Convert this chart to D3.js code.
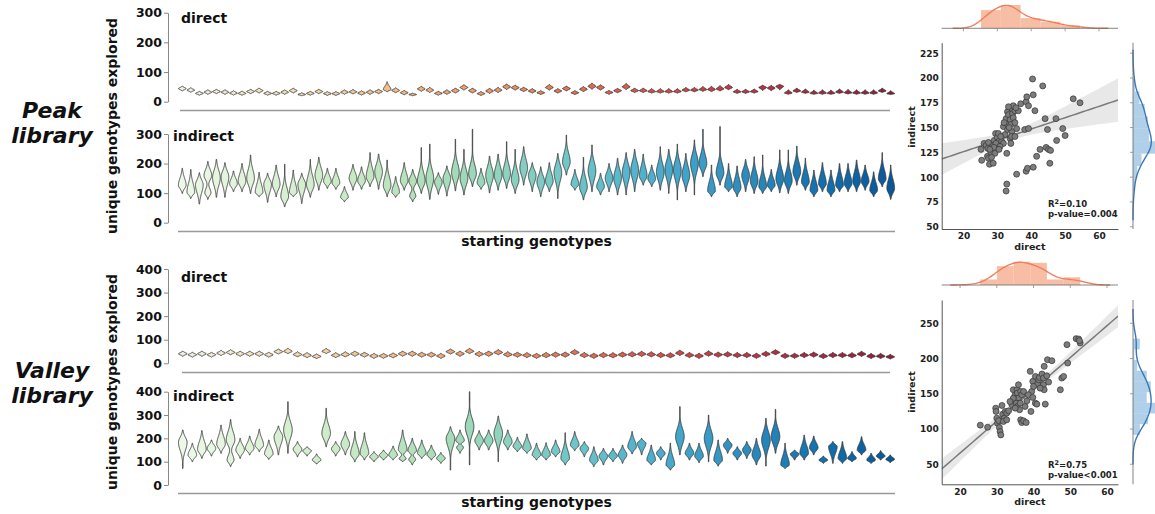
<!DOCTYPE html>
<html>
<head>
<meta charset="utf-8">
<script src="https://cdn.jsdelivr.net/npm/d3@7"></script>
<style>
  body { margin: 0; background: #fff; }
  svg { font-family: 'DejaVu Sans', sans-serif; font-weight: bold; }
</style>
</head>
<body>
<svg width="1155" height="514"></svg>
<script>
// violins: [bottom tip, widest point, top tip, optional second bulge]
const peakDirect = [
  [36,44,53],[32,39,47],[22,28,35],[25,32,40],[27,34,42],[25,32,40],[22,29,37],[22,28,36],[27,34,42],[29,37,46],
  [22,28,35],[22,28,35],[25,32,40],[29,37,46],[20,24,30],[22,28,35],[27,34,42],[21,27,34],[21,27,34],[25,32,40],
  [26,33,41],[22,29,37],[25,32,40],[27,34,42],[33,41,67],[30,38,47],[23,30,38],[20,24,29],[35,43,52],[31,39,48],
  [22,28,35],[25,32,40],[29,37,46],[39,48,57],[29,37,46],[21,27,34],[28,36,45],[31,39,48],[41,50,60],[39,47,56],
  [34,41,49],[29,36,44],[24,30,37],[39,48,58],[29,36,44],[36,44,53],[24,30,37],[34,42,51],[42,52,63],[39,48,57],
  [25,31,38],[30,37,45],[41,50,61],[31,37,46],[31,37,46],[29,34,44],[29,34,44],[29,34,44],[29,34,44],[33,39,48],
  [33,39,48],[35,41,51],[34,41,52],[36,43,54],[40,48,58],[28,33,42],[28,33,42],[29,34,43],[38,48,56],[37,46,55],
  [40,52,59],[25,29,40],[31,36,46],[28,32,43],[25,28,39],[25,29,40],[25,28,39],[28,32,43],[26,30,41],[25,29,40],
  [25,29,40],[25,29,40],[31,36,46],[24,27,37]
]
const peakIndirect = [
  [99,127,184],[82,103,180],[63,128,169],[79,160,207,101],[86,152,214],[86,155,203],[105,132,175],[105,140,200],[99,150,229],[88,102,170],
  [69,130,167],[88,130,195],[54,88,198],[88,102,178],[65,130,167],[86,128,214],[110,160,221],[116,140,184],[113,135,184],[71,86,122],
  [110,150,197],[113,142,189],[122,155,237],[113,172,232],[88,125,212],[86,103,156],[110,142,203],[71,140,180,90],[99,140,254],[79,150,266],
  [96,138,169],[90,150,192],[108,170,282],[94,150,248],[122,165,316],[113,135,184],[101,160,225],[110,160,232],[116,165,274],[99,145,248],
  [127,185,257],[105,160,203],[88,138,189],[105,140,203],[82,170,234],[161,205,296],[110,130,180],[77,120,221],[105,175,263],[94,122,167],
  [105,150,200],[94,150,218],[94,170,237],[105,178,248],[127,158,232],[122,148,195],[110,170,257],[99,180,248],[77,178,266],[105,160,234],
  [94,200,280],[156,200,316],[88,108,195],[127,168,325],[105,122,200],[88,118,192],[105,160,214],[99,140,223],[99,122,229],[105,127,180],
  [101,148,246],[99,142,246],[127,172,259],[110,138,218],[88,110,178],[105,132,203],[88,110,178],[105,127,200],[105,132,200],[105,140,212],
  [110,140,195],[88,110,172],[122,148,237],[79,116,195]
]
const valleyDirect = [
  [30,40,52],[26,36,47],[30,40,52],[26,36,47],[33,43,55],[36,46,58],[30,40,52],[30,40,52],[30,40,52],[26,36,47],
  [39,49,61],[41,51,64],[27,37,49],[24,34,45],[20,29,40],[41,51,63],[24,34,45],[27,37,49],[30,40,52],[26,36,47],
  [21,31,42],[21,31,42],[23,33,44],[30,40,52],[30,40,52],[26,36,47],[26,36,47],[21,31,42],[39,49,61],[30,40,52],
  [41,51,63],[29,39,50],[30,40,52],[36,46,58],[27,37,49],[26,36,47],[24,34,45],[21,31,42],[24,34,46],[26,36,48],
  [26,36,48],[36,46,58],[24,34,46],[21,31,43],[24,34,46],[23,33,45],[26,36,48],[27,37,49],[29,39,51],[27,37,49],
  [24,34,46],[23,33,45],[33,43,56],[24,34,46],[21,31,43],[30,40,53],[26,36,48],[27,37,49],[24,34,46],[24,34,46],
  [21,31,43],[29,39,51],[36,46,58],[21,31,43],[21,31,43],[24,34,46],[26,36,48],[20,30,42],[24,34,46],[24,34,46],
  [23,33,45],[29,39,51],[20,30,42],[20,30,42],[18,27,38]
]
const valleyIndirect = [
  [71,183,236],[100,129,179],[114,153,233],[124,157,193],[136,175,257],[79,193,281,107],[114,150,200],[129,157,210],[143,171,239],[110,133,193],
  [129,207,253],[136,236,357],[121,153,186],[124,147,164],[90,107,133],[164,221,329],[124,155,186],[129,175,229],[100,133,229],[107,136,224],
  [100,121,143],[107,127,150],[107,128,167],[100,150,236,112],[86,147,200,110],[114,136,193],[107,129,171],[93,114,139],[64,200,250],[136,190,236,162],
  [86,250,400],[150,190,233],[150,190,236],[100,221,296],[150,185,236],[143,165,204],[136,157,219],[107,129,179],[107,129,181],[121,143,193],
  [86,114,224],[147,171,229],[121,157,186],[79,107,164],[86,124,157],[100,124,157],[93,129,171],[133,164,229],[129,179,200],[86,107,171],
  [107,136,164],[64,86,179],[129,207,336],[107,136,179],[96,124,179],[100,200,300],[81,107,193],[136,171,200],[107,136,164],[114,150,186],
  [86,129,200],[81,193,286],[136,207,324],[71,86,179],[107,133,150],[107,136,214],[129,160,210],[93,107,124],[93,165,186],[93,114,186],
  [100,114,143],[129,150,207],[93,107,136],[107,124,147],[96,110,129]
]

// per-genotype means for the joint plots
const peakDirectMean = [
  25.2,25.4,26.1,26.7,27.2,27.4,27.1,27.4,27.7,28.8,28.1,28.6,29.1,29.5,30.0,30.3,30.4,29.6,31.3,31.8,
  32.3,32.8,33.0,32.6,33.0,33.3,33.8,34.0,34.3,34.5,34.7,35.2,34.7,35.2,34.3,33.8,34.2,34.0,32.8,32.8,
  32.6,35.7,36.9,38.5,38.7,39.2,38.1,39.2,38.5,38.9,40.4,40.6,41.1,40.6,41.6,42.6,43.4,44.1,44.4,44.8,
  45.1,45.7,45.5,47.3,47.5,49.3,50.0,52.4,54.4,31.8,30.8,29.3,28.3,35.2,35.7,36.2,35.5,33.3,32.0,29.0,
  30.5,27.8,31.0,33.5
]
const peakIndirectMean = [
  128,117,134,132,129,135,121,119,113,114,125,131,137,144,140,144,136,134,136,151,
  143,154,148,159,166,163,158,153,169,164,172,167,160,155,146,139,141,134,124,93,
  86,103,174,176,181,172,148,149,106,109,199,183,167,110,121,128,192,159,130,148,
  128,127,114,159,137,149,142,179,175,134,131,124,120,141,149,167,170,171,155,130,
  128,128,141,150
]
const valleyDirectMean = [
  25.5,27.5,29.7,29.8,30.0,30.2,30.7,30.9,31.1,30.5,31.4,31.6,32.0,32.3,32.7,33.2,34.1,34.5,35.0,35.3,
  35.5,35.6,35.9,35.3,35.6,36.2,36.4,36.5,36.8,37.3,36.5,36.8,37.3,38.0,37.7,38.2,39.1,39.3,39.8,40.5,
  40.5,40.9,41.1,41.4,41.6,42.3,42.7,42.7,42.9,43.2,42.9,43.8,45.0,44.1,47.3,47.7,48.2,49.1,49.3,51.6,
  52.3,52.7,52.5,39.5,40.0,41.8,34.5,33.6,31.8,32.7,35.0,35.9,38.6,39.8,43.6
]
const valleyIndirectMean = [
  105.5,102.6,129.6,124.9,115.4,108.3,102.1,96.4,91.7,112,133.4,121,115.4,124.9,122.5,125.8,134.4,155.7,148.6,141.5,
  155.7,151,143.8,136.7,132,127.3,136.7,153.3,148.6,153.3,113,109.2,111.6,109.2,132,140,181.8,124.9,167.6,174.6,
  136.7,135.3,163.7,169.9,173.2,178,172.3,162.8,155.7,135.3,188.9,198.3,196.9,166.6,155.7,172.3,174.6,219.7,193.6,228.2,
  227.7,222,225.4,153.3,160.4,158,143.8,139,110.7,113,129.6,162.8,148.6,144.8,175.6
]

const peakTicks = [0, 100, 200, 300]
const valleyTicks = [0, 100, 200, 300, 400]
const jointXTicks = [20, 30, 40, 50, 60]
const peakJointYTicks = [50, 75, 100, 125, 150, 175, 200, 225]
const valleyJointYTicks = [50, 100, 150, 200, 250]
const libraries = [['Peak', 'library'], ['Valley', 'library']]
const peakStats = ['0.10', 'p-value=0.004']
const valleyStats = ['0.75', 'p-value<0.001']

const svg = d3.select('svg')

const directColor = d3.interpolateRgbBasis(['#eef1e0', '#f5dcb0', '#f3b37e', '#ec8658', '#d94a45', '#bb2a3e', '#8c1f3b'])
const indirectColor = t => d3.interpolateGnBu(0.05 + 0.88 * t)

const bandX = [178, 895]
const axisX = 168

const gauss = (v, m, sL, sH) => {
  const s = v < m ? sL : sH
  return Math.exp(-0.5 * ((v - m) / s) ** 2)
}

// outline of one violin (round bulb, thin whisker), widths normalised to 1
const profile = (d, cap) => {
  const [lo, mid, hi, mid2] = d
  const steps = d3.range(0, 81).map(i => lo + (hi - lo) * i / 80)
  const sig = r => Math.min(Math.max(r, 2) / 2.4, cap)
  let dens
  if (mid2 === undefined) {
    dens = steps.map(v => gauss(v, mid, sig(mid - lo), sig(hi - mid)))
  } else {
    const a = Math.min(mid, mid2)
    const b = Math.max(mid, mid2)
    const wa = a === mid ? 1 : 0.8
    const wb = b === mid ? 1 : 0.8
    const sIn = (b - a) / 4
    dens = steps.map(v => wa * gauss(v, a, sig(a - lo), sIn) + wb * gauss(v, b, sIn, sig(hi - b)))
  }
  const top = d3.max(dens)
  return steps.map((v, i) => ({ v, f: Math.max(dens[i] / top, 0.05) }))
}

const violinPanel = ({ data, yMax, ticks, range, spine, color, label, labelPos, cap }) => {
  const x = d3.scaleBand().domain(d3.range(data.length)).range(bandX)
  const y = d3.scaleLinear().domain([0, yMax]).range(range)
  const half = x.bandwidth() * 0.45
  const g = svg.append('g')

  const yAxis = g.append('g')
    .attr('transform', `translate(${axisX},0)`)
    .call(d3.axisLeft(y).tickValues(ticks).tickSize(4).tickSizeOuter(0).tickPadding(2))
  yAxis.select('.domain').attr('stroke', '#888')
  yAxis.selectAll('.tick line').attr('stroke', '#888')
  yAxis.selectAll('.tick text')
    .attr('font-size', 12.5)
    .attr('font-weight', 'bold')
    .attr('font-family', 'DejaVu Sans')
    .attr('fill', '#111')

  g.append('line')
    .attr('x1', spine[0]).attr('x2', spine[1])
    .attr('y1', spine[2]).attr('y2', spine[2])
    .attr('stroke', '#999')
    .attr('stroke-width', 1.6)

  const area = d3.area()
    .y(p => y(p.v))
    .x0(p => -half * p.f)
    .x1(p => half * p.f)

  g.selectAll('.violin').data(data).join('path')
    .attr('class', 'violin')
    .attr('transform', (d, i) => `translate(${x(i) + x.bandwidth() / 2},0)`)
    .attr('d', d => area(profile(d, cap)))
    .attr('fill', (d, i) => color(i / (data.length - 1)))
    .attr('stroke', '#3a3a3a')
    .attr('stroke-width', 0.9)

  g.append('text')
    .attr('x', labelPos[0]).attr('y', labelPos[1])
    .attr('font-size', 14)
    .attr('fill', '#111')
    .text(label)
}

const kde = values => {
  const n = values.length
  const sorted = values.slice().sort(d3.ascending)
  const iqr = d3.quantile(sorted, 0.75) - d3.quantile(sorted, 0.25)
  const h = 1.059 * Math.min(d3.deviation(values), iqr / 1.349) * n ** -0.2
  const [mn, mx] = d3.extent(values)
  const grid = d3.range(0, 101).map(i => mn - 3 * h + (mx - mn + 6 * h) * i / 100)
  return grid.map(g => ({
    v: g,
    d: d3.mean(values, v => Math.exp(-0.5 * ((g - v) / h) ** 2)) / (h * Math.sqrt(2 * Math.PI))
  }))
}

const histogram = (values, count) => {
  const [mn, mx] = d3.extent(values)
  const thresholds = d3.range(1, count).map(i => mn + (mx - mn) * i / count)
  const bins = d3.bin().domain([mn, mx]).thresholds(thresholds)(values)
  return bins.map(b => ({ x0: b.x0, x1: b.x1, d: b.length / (values.length * (b.x1 - b.x0)) }))
}

const jointPanel = ({ id, xs, ys, xDomain, yDomain, top, bottom, yTicks, histBase, stats, statY, yLabelY, bins }) => {
  const left = 941.7
  const right = 1118
  const x = d3.scaleLinear().domain(xDomain).range([left, right])
  const y = d3.scaleLinear().domain(yDomain).range([bottom, top])
  const g = svg.append('g')

  g.append('clipPath').attr('id', id)
    .append('rect')
    .attr('x', left).attr('y', top)
    .attr('width', right - left).attr('height', bottom - top)

  // regression with 95% band
  const n = xs.length
  const mx = d3.mean(xs)
  const my = d3.mean(ys)
  const sxx = d3.sum(xs, v => (v - mx) ** 2)
  const sxy = d3.sum(xs, (v, i) => (v - mx) * (ys[i] - my))
  const slope = sxy / sxx
  const icpt = my - slope * mx
  const se = Math.sqrt(d3.sum(xs, (v, i) => (ys[i] - icpt - slope * v) ** 2) / (n - 2))
  const fit = d3.range(0, 51).map(i => {
    const v = xDomain[0] + (xDomain[1] - xDomain[0]) * i / 50
    const yh = icpt + slope * v
    const w = 1.99 * se * Math.sqrt(1 / n + (v - mx) ** 2 / sxx)
    return { v, yh, lo: yh - w, hi: yh + w }
  })

  const fitG = g.append('g').attr('clip-path', `url(#${id})`)
  fitG.append('path')
    .attr('d', d3.area().x(p => x(p.v)).y0(p => y(p.lo)).y1(p => y(p.hi))(fit))
    .attr('fill', '#d8d8d8')
    .attr('opacity', 0.6)
  fitG.append('path')
    .attr('d', d3.line().x(p => x(p.v)).y(p => y(p.yh))(fit))
    .attr('fill', 'none')
    .attr('stroke', '#7a7a7a')
    .attr('stroke-width', 1.5)

  g.selectAll('.dot').data(xs).join('circle')
    .attr('class', 'dot')
    .attr('cx', d => x(d))
    .attr('cy', (d, i) => y(ys[i]))
    .attr('r', 3)
    .attr('fill', '#7c7c7c')
    .attr('stroke', '#333')
    .attr('stroke-width', 0.7)

  // spines
  const xAxis = g.append('g')
    .attr('transform', `translate(0,${bottom})`)
    .call(d3.axisBottom(x).tickValues(jointXTicks).tickSize(0).tickSizeOuter(0).tickPadding(4))
  const yAxis = g.append('g')
    .attr('transform', `translate(${left},0)`)
    .call(d3.axisLeft(y).tickValues(yTicks).tickSize(0).tickSizeOuter(0).tickPadding(3))
  ;[xAxis, yAxis].forEach(a => {
    a.select('.domain').attr('stroke', '#555')
    a.selectAll('.tick text')
      .attr('font-size', 9)
      .attr('font-weight', 'bold')
      .attr('font-family', 'DejaVu Sans')
      .attr('fill', '#222')
  })

  g.append('text')
    .attr('x', (left + right) / 2).attr('y', bottom + 21)
    .attr('text-anchor', 'middle')
    .attr('font-size', 9.5)
    .attr('fill', '#222')
    .text('direct')
  g.append('text')
    .attr('transform', `translate(914.5,${yLabelY}) rotate(-90)`)
    .attr('text-anchor', 'middle')
    .attr('font-size', 9.5)
    .attr('fill', '#222')
    .text('indirect')

  const st = g.append('text')
    .attr('x', 1048).attr('y', statY)
    .attr('font-size', 8.5)
    .attr('fill', '#222')
  st.append('tspan').text('R')
  st.append('tspan').attr('dy', -3.5).attr('font-size', 6.5).text('2')
  st.append('tspan').attr('dy', 3.5).text('=' + stats[0])
  g.append('text')
    .attr('x', 1048).attr('y', statY + 10)
    .attr('font-size', 8.5)
    .attr('fill', '#222')
    .text(stats[1])

  // top marginal
  const hx = histogram(xs, bins[0])
  const kx = kde(xs)
  const dx = d3.scaleLinear()
    .domain([0, Math.max(d3.max(hx, b => b.d), d3.max(kx, p => p.d)) * 1.03])
    .range([histBase, histBase - 24])
  g.selectAll('.hbar').data(hx).join('rect')
    .attr('class', 'hbar')
    .attr('x', b => x(b.x0))
    .attr('width', b => x(b.x1) - x(b.x0))
    .attr('y', b => dx(b.d))
    .attr('height', b => histBase - dx(b.d))
    .attr('fill', '#f4a582')
    .attr('opacity', 0.72)
  g.append('path')
    .attr('d', d3.line().x(p => x(p.v)).y(p => dx(p.d))(kx.filter(p => p.v >= xDomain[0] && p.v <= xDomain[1])))
    .attr('fill', 'none')
    .attr('stroke', '#ef7f5c')
    .attr('stroke-width', 1.4)
  g.append('line')
    .attr('x1', left).attr('x2', right)
    .attr('y1', histBase).attr('y2', histBase)
    .attr('stroke', '#666')
    .attr('stroke-width', 0.8)
  g.selectAll('.htick').data(jointXTicks).join('line')
    .attr('class', 'htick')
    .attr('x1', d => x(d)).attr('x2', d => x(d))
    .attr('y1', histBase).attr('y2', histBase + 3)
    .attr('stroke', '#888')
    .attr('stroke-width', 0.8)

  // right marginal
  const rightBase = 1133
  const hy = histogram(ys, bins[1])
  const ky = kde(ys)
  const dy = d3.scaleLinear()
    .domain([0, Math.max(d3.max(hy, b => b.d), d3.max(ky, p => p.d)) * 1.03])
    .range([rightBase, rightBase + 24])
  g.selectAll('.vbar').data(hy).join('rect')
    .attr('class', 'vbar')
    .attr('x', rightBase)
    .attr('width', b => dy(b.d) - rightBase)
    .attr('y', b => y(b.x1))
    .attr('height', b => y(b.x0) - y(b.x1))
    .attr('fill', '#6fa8d6')
    .attr('opacity', 0.55)
  g.append('path')
    .attr('d', d3.line().x(p => dy(p.d)).y(p => y(p.v))(ky.filter(p => p.v >= yDomain[0] && p.v <= yDomain[1])))
    .attr('fill', 'none')
    .attr('stroke', '#3a78b5')
    .attr('stroke-width', 1.4)
  g.append('line')
    .attr('x1', rightBase).attr('x2', rightBase)
    .attr('y1', top).attr('y2', bottom)
    .attr('stroke', '#666')
    .attr('stroke-width', 0.8)
  g.selectAll('.vtick').data(yTicks).join('line')
    .attr('class', 'vtick')
    .attr('x1', rightBase - 3).attr('x2', rightBase)
    .attr('y1', d => y(d)).attr('y2', d => y(d))
    .attr('stroke', '#888')
    .attr('stroke-width', 0.8)
}

// peak library
violinPanel({ data: peakDirect, yMax: 300, ticks: peakTicks, range: [101.7, 12.7], spine: [180, 890, 110.5], color: directColor, label: 'direct', labelPos: [181, 22.7], cap: 30 })
violinPanel({ data: peakIndirect, yMax: 300, ticks: peakTicks, range: [222.7, 134], spine: [178, 895, 231.5], color: indirectColor, label: 'indirect', labelPos: [173, 140.7], cap: 30 })
// valley library
violinPanel({ data: valleyDirect, yMax: 400, ticks: valleyTicks, range: [363.3, 269], spine: [182, 890, 372.5], color: directColor, label: 'direct', labelPos: [181, 281.7], cap: 35 })
violinPanel({ data: valleyIndirect, yMax: 400, ticks: valleyTicks, range: [485, 391.7], spine: [178, 895, 493.5], color: indirectColor, label: 'indirect', labelPos: [173, 400.7], cap: 35 })

const titles = svg.append('g').attr('fill', '#111')
;[126, 382].forEach(cy => {
  titles.append('text')
    .attr('transform', `translate(117,${cy}) rotate(-90)`)
    .attr('text-anchor', 'middle')
    .attr('font-size', 14)
    .text('unique genotypes explored')
})
;[245.5, 506.5].forEach(by => {
  titles.append('text')
    .attr('x', (bandX[0] + bandX[1]) / 2).attr('y', by)
    .attr('text-anchor', 'middle')
    .attr('font-size', 14)
    .text('starting genotypes')
})
libraries.forEach((lines, k) => {
  const base = k === 0 ? 118 : 378
  lines.forEach((t, j) => {
    titles.append('text')
      .attr('x', 52).attr('y', base + j * 25)
      .attr('text-anchor', 'middle')
      .attr('font-size', 22)
      .attr('font-style', 'italic')
      .text(t)
  })
})

jointPanel({
  id: 'clipPeak', xs: peakDirectMean, ys: peakIndirectMean,
  xDomain: [13.6, 65.6], yDomain: [47.7, 235.6], top: 42.7, bottom: 229,
  yTicks: peakJointYTicks, histBase: 28.3, stats: peakStats, statY: 207, yLabelY: 127, bins: [5, 9]
})
jointPanel({
  id: 'clipValley', xs: valleyDirectMean, ys: valleyIndirectMean,
  xDomain: [15, 63], yDomain: [21.6, 283], top: 300, bottom: 484.3,
  yTicks: valleyJointYTicks, histBase: 285, stats: valleyStats, statY: 468, yLabelY: 392, bins: [6, 9]
})
</script>
</body>
</html>
